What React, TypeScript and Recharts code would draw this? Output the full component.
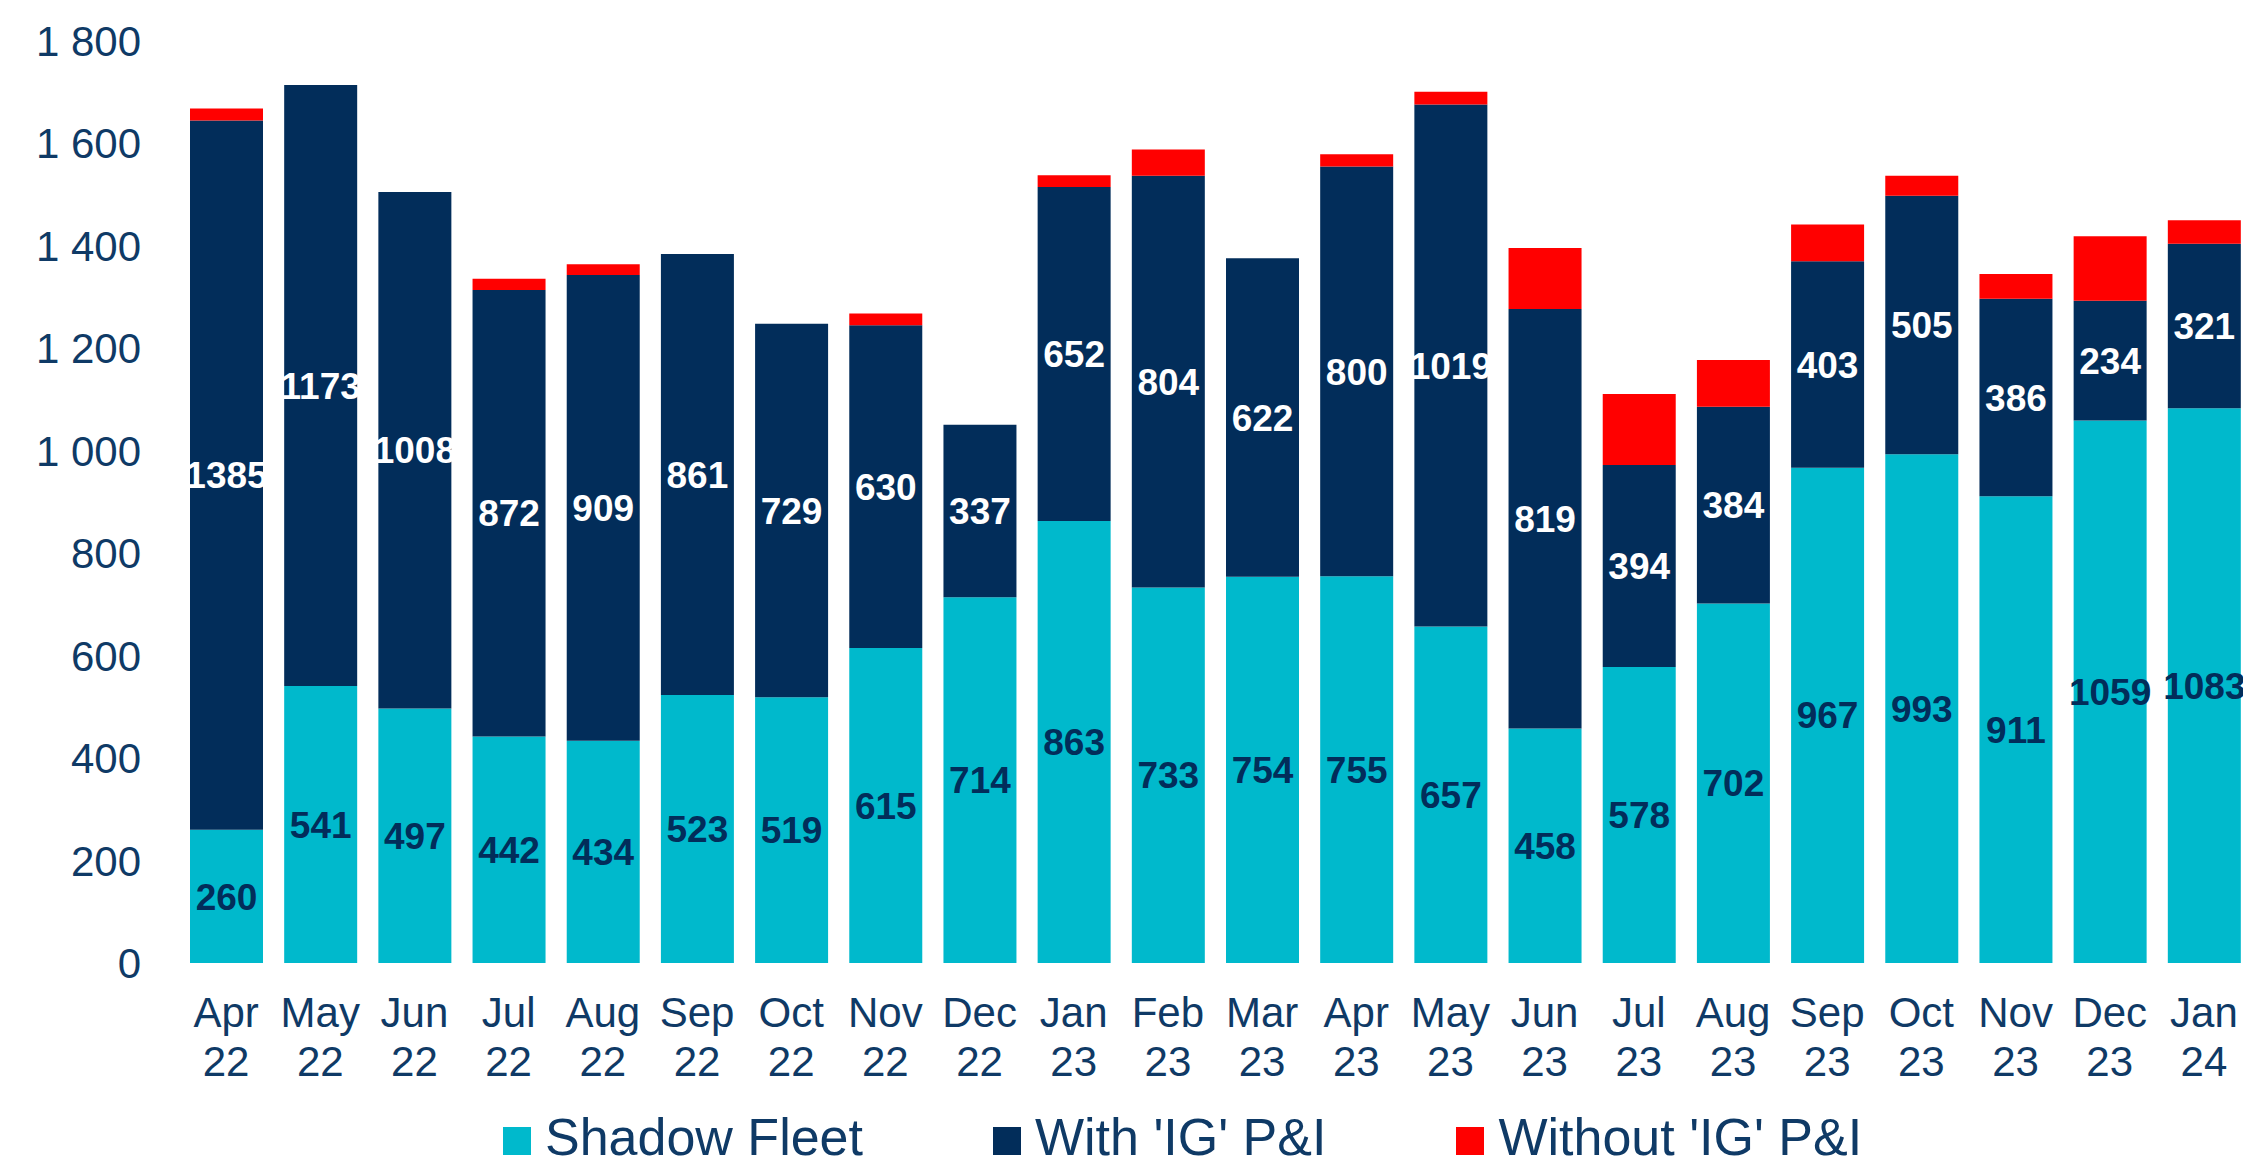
import React from 'react';
import { BarChart, Bar, XAxis, YAxis, Legend, LabelList } from 'recharts';

const months = [
  'Apr 22', 'May 22', 'Jun 22', 'Jul 22', 'Aug 22', 'Sep 22', 'Oct 22', 'Nov 22', 'Dec 22',
  'Jan 23', 'Feb 23', 'Mar 23', 'Apr 23', 'May 23', 'Jun 23', 'Jul 23', 'Aug 23', 'Sep 23',
  'Oct 23', 'Nov 23', 'Dec 23', 'Jan 24',
];
const shadowFleet = [260, 541, 497, 442, 434, 523, 519, 615, 714, 863, 733, 754, 755, 657, 458, 578, 702, 967, 993, 911, 1059, 1083];
const withIG = [1385, 1173, 1008, 872, 909, 861, 729, 630, 337, 652, 804, 622, 800, 1019, 819, 394, 384, 403, 505, 386, 234, 321];
const withoutIG = [23, 0, 0, 22, 21, 0, 0, 23, 0, 23, 51, 0, 24, 25, 119, 139, 91, 72, 39, 48, 126, 46];
const yTicks = [0, 200, 400, 600, 800, 1000, 1200, 1400, 1600, 1800];
const seriesNames = ['Shadow Fleet', "With 'IG' P&I", "Without 'IG' P&I"];

const data = months.map((m, i) => ({
  month: m,
  shadow: shadowFleet[i],
  withIG: withIG[i],
  withoutIG: withoutIG[i],
}));

const FONT = '"Liberation Sans", Arial, sans-serif';
const TEXT = '#0f3a66';
const CYAN = '#00b9cc';
const NAVY = '#022d5a';
const RED = '#ff0000';
const colors = [CYAN, NAVY, RED];

const fmt = (v: number) => {
  const s = String(v);
  return s.length > 3 ? s.slice(0, s.length - 3) + ' ' + s.slice(-3) : s;
};

const XTick = (props: any) => {
  const { x, y, payload } = props;
  const [m, yr] = String(payload.value).split(' ');
  return (
    <text x={x} y={y} textAnchor="middle" fill={TEXT} fontSize={42} fontFamily={FONT}>
      <tspan x={x} dy={64}>{m}</tspan>
      <tspan x={x} dy={49}>{yr}</tspan>
    </text>
  );
};

const YTick = (props: any) => {
  const { x, y, payload } = props;
  return (
    <text x={x - 38} y={y} dy={15} textAnchor="end" fill={TEXT} fontSize={42} fontFamily={FONT}>
      {fmt(payload.value)}
    </text>
  );
};

const LegendContent = () => (
  <div
    style={{
      height: 62,
      display: 'flex',
      alignItems: 'center',
      paddingLeft: 503,
      gap: 130,
      fontFamily: FONT,
      fontSize: 52,
      color: TEXT,
      whiteSpace: 'nowrap',
    }}
  >
    {seriesNames.map((n, i) => (
      <div key={n} style={{ display: 'flex', alignItems: 'center' }}>
        <div style={{ width: 28, height: 28, background: colors[i], marginRight: 14, position: 'relative', top: 4 }} />
        <span>{n}</span>
      </div>
    ))}
  </div>
);

export default function App() {
  return (
    <div style={{ position: 'absolute', left: 0, top: 0, width: 2243, height: 1168, overflow: 'hidden', background: '#fff' }}>
      <BarChart
        width={2260}
        height={1168}
        data={data}
        margin={{ top: 41, right: 9, left: 0, bottom: 0 }}
        style={{ fontFamily: FONT }}
      >
        <XAxis
          dataKey="month"
          axisLine={false}
          tickLine={false}
          tickSize={0}
          tickMargin={0}
          height={143}
          interval={0}
          tick={<XTick />}
        />
        <YAxis
          domain={[0, 1800]}
          ticks={yTicks}
          axisLine={false}
          tickLine={false}
          tickSize={0}
          tickMargin={0}
          width={179}
          tick={<YTick />}
        />
        <Legend verticalAlign="bottom" content={<LegendContent />} />
        <Bar dataKey="shadow" name={seriesNames[0]} stackId="a" fill={CYAN} barSize={73} isAnimationActive={false}>
          <LabelList dataKey="shadow" position="center" fill={NAVY} fontSize={37} fontWeight={700} fontFamily={FONT} />
        </Bar>
        <Bar dataKey="withIG" name={seriesNames[1]} stackId="a" fill={NAVY} barSize={73} isAnimationActive={false}>
          <LabelList dataKey="withIG" position="center" fill="#ffffff" fontSize={37} fontWeight={700} fontFamily={FONT} />
        </Bar>
        <Bar dataKey="withoutIG" name={seriesNames[2]} stackId="a" fill={RED} barSize={73} isAnimationActive={false} />
      </BarChart>
    </div>
  );
}
